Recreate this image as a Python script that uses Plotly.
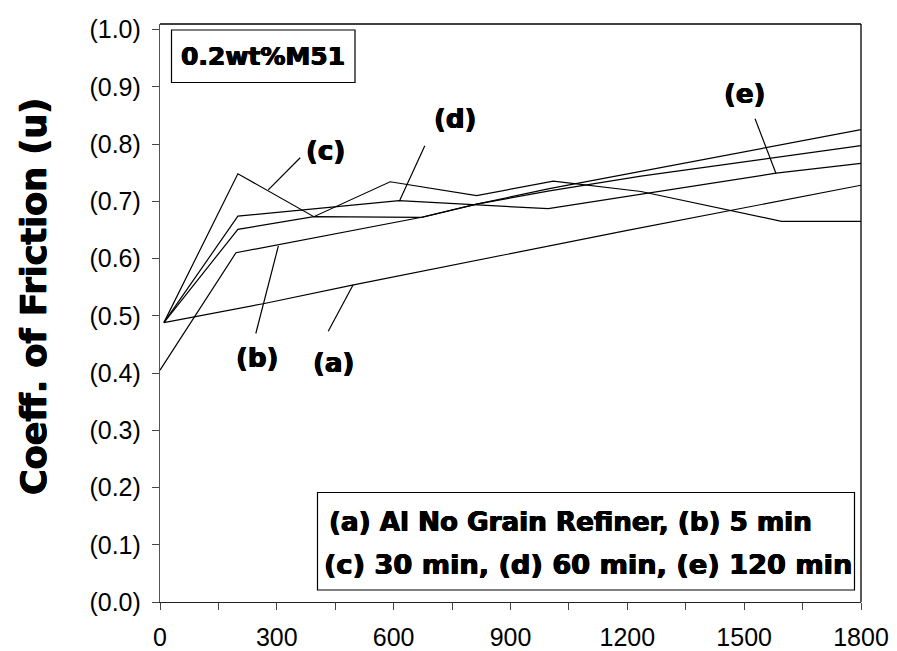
import plotly.graph_objects as go

# ---- data ----
time_a = [10, 265, 497, 873, 1200, 1800]
cof_a = [0.488, 0.521, 0.554, 0.605, 0.649, 0.728]

time_b = [0, 195, 672, 813, 1000, 1235, 1800]
cof_b = [0.405, 0.610, 0.672, 0.695, 0.718, 0.744, 0.797]

time_c = [10, 200, 395, 591, 813, 1010, 1235, 1596, 1800]
cof_c = [0.488, 0.748, 0.673, 0.734, 0.710, 0.735, 0.717, 0.665, 0.665]

time_d = [10, 200, 614, 997, 1582, 1800]
cof_d = [0.488, 0.674, 0.701, 0.687, 0.749, 0.766]

time_e = [10, 200, 395, 672, 813, 1000, 1800]
cof_e = [0.488, 0.651, 0.673, 0.672, 0.695, 0.722, 0.825]

series_names = ["(a)", "(b)", "(c)", "(d)", "(e)"]

x_tick_vals = [0, 150, 300, 450, 600, 750, 900, 1050, 1200, 1350, 1500, 1650, 1800]
x_tick_text = ["0", "", "300", "", "600", "", "900", "", "1200", "", "1500", "", "1800"]
y_tick_vals = [0.0, 0.1, 0.2, 0.3, 0.4, 0.5, 0.6, 0.7, 0.8, 0.9, 1.0]
y_tick_text = ["(0.0)", "(0.1)", "(0.2)", "(0.3)", "(0.4)", "(0.5)",
               "(0.6)", "(0.7)", "(0.8)", "(0.9)", "(1.0)"]

# label placement (label centre, leader start, leader end) in data units
label_pos = {
    "(a)": (445, 0.418, 432, 0.473, 496, 0.554),
    "(b)": (248, 0.427, 246, 0.469, 304, 0.622),
    "(c)": (424, 0.788, 360, 0.776, 278, 0.720),
    "(d)": (758, 0.844, 680, 0.797, 616, 0.702),
    "(e)": (1502, 0.888, 1528, 0.844, 1582, 0.748),
}

W, H = 897, 651
L, R, T, B = 160, 36, 24, 49
PW, PH = W - L - R, H - T - B


def px(xp):
    return (xp - L) / PW


def py(yp):
    return (H - B - yp) / PH


HEAVY = "DejaVu Sans"
HW = "bold"
SH = "0.6px 0 0 black, -0.6px 0 0 black, 0 0.4px 0 black"

fig = go.Figure()
for xs, ys, nm in zip([time_a, time_b, time_c, time_d, time_e],
                      [cof_a, cof_b, cof_c, cof_d, cof_e], series_names):
    fig.add_trace(go.Scatter(x=xs, y=ys, mode="lines", name=nm,
                             line=dict(color="black", width=1.2),
                             showlegend=False, hoverinfo="skip"))

shapes = []
annotations = []
for nm in series_names:
    lx, ly, x0, y0, x1, y1 = label_pos[nm]
    shapes.append(dict(type="line", xref="x", yref="y", x0=x0, y0=y0, x1=x1, y1=y1,
                       line=dict(color="black", width=1.2)))
    annotations.append(dict(x=lx, y=ly, xref="x", yref="y", text=nm, showarrow=False,
                            xanchor="center", yanchor="middle",
                            font=dict(family=HEAVY, size=26, color="black", weight=HW,
                                      shadow=SH)))

# frame top / right
shapes.append(dict(type="line", xref="paper", yref="paper", x0=0, y0=1, x1=1, y1=1,
                   line=dict(color="black", width=1.3)))
shapes.append(dict(type="line", xref="paper", yref="paper", x0=1, y0=0, x1=1, y1=1,
                   line=dict(color="black", width=1.3)))
# title box
shapes.append(dict(type="rect", xref="paper", yref="paper",
                   x0=px(171.5), x1=px(355), y0=py(82.5), y1=py(30),
                   line=dict(color="black", width=1.2), fillcolor="rgba(0,0,0,0)"))
annotations.append(dict(x=px(263), y=py(57), xref="paper", yref="paper",
                        xanchor="center", yanchor="middle",
                        text="0.2wt%M51", showarrow=False,
                        font=dict(family=HEAVY, size=25, color="black", weight=HW,
                                  shadow=SH)))
# legend box
shapes.append(dict(type="rect", xref="paper", yref="paper",
                   x0=px(317.5), x1=px(854.5), y0=py(590), y1=py(492.5),
                   line=dict(color="black", width=1.2), fillcolor="white"))
annotations.append(dict(x=px(327), y=py(522), xref="paper", yref="paper",
                        xanchor="left", yanchor="middle",
                        text="(a) Al No Grain Refiner, (b) 5 min", showarrow=False,
                        font=dict(family=HEAVY, size=26.2, color="black", weight=HW,
                                  shadow=SH)))
annotations.append(dict(x=px(322), y=py(564), xref="paper", yref="paper",
                        xanchor="left", yanchor="middle",
                        text="(c) 30 min, (d) 60 min, (e) 120 min", showarrow=False,
                        font=dict(family=HEAVY, size=27.2, color="black", weight=HW,
                                  shadow=SH)))
# y-axis title
annotations.append(dict(x=px(34), y=py(297), xref="paper", yref="paper",
                        xanchor="center", yanchor="middle",
                        text="Coeff. of Friction (u)", textangle=-90, showarrow=False,
                        font=dict(family=HEAVY, size=35, color="black", weight=HW,
                                  shadow=SH)))

fig.update_layout(
    template="none",
    width=W, height=H,
    margin=dict(l=L, r=R, t=T, b=B, pad=0, autoexpand=False),
    paper_bgcolor="white", plot_bgcolor="white",
    shapes=shapes, annotations=annotations,
    xaxis=dict(range=[0, 1800], tickvals=x_tick_vals, ticktext=x_tick_text,
               automargin=False,
               ticks="outside", ticklen=7, tickcolor="#444", tickwidth=1,
               showline=True, linecolor="#222", linewidth=1.3,
               showgrid=False, zeroline=False, ticklabelstandoff=6,
               tickfont=dict(family="Liberation Sans", size=25, color="black")),
    yaxis=dict(range=[0, 1.0096], tickvals=y_tick_vals, ticktext=y_tick_text,
               automargin=False,
               ticks="outside", ticklen=7, tickcolor="#444", tickwidth=1,
               showline=True, linecolor="#555", linewidth=1.3,
               showgrid=False, zeroline=False, ticklabelstandoff=6,
               tickfont=dict(family="Liberation Sans", size=25, color="black")),
)

fig.write_html("out.html")
